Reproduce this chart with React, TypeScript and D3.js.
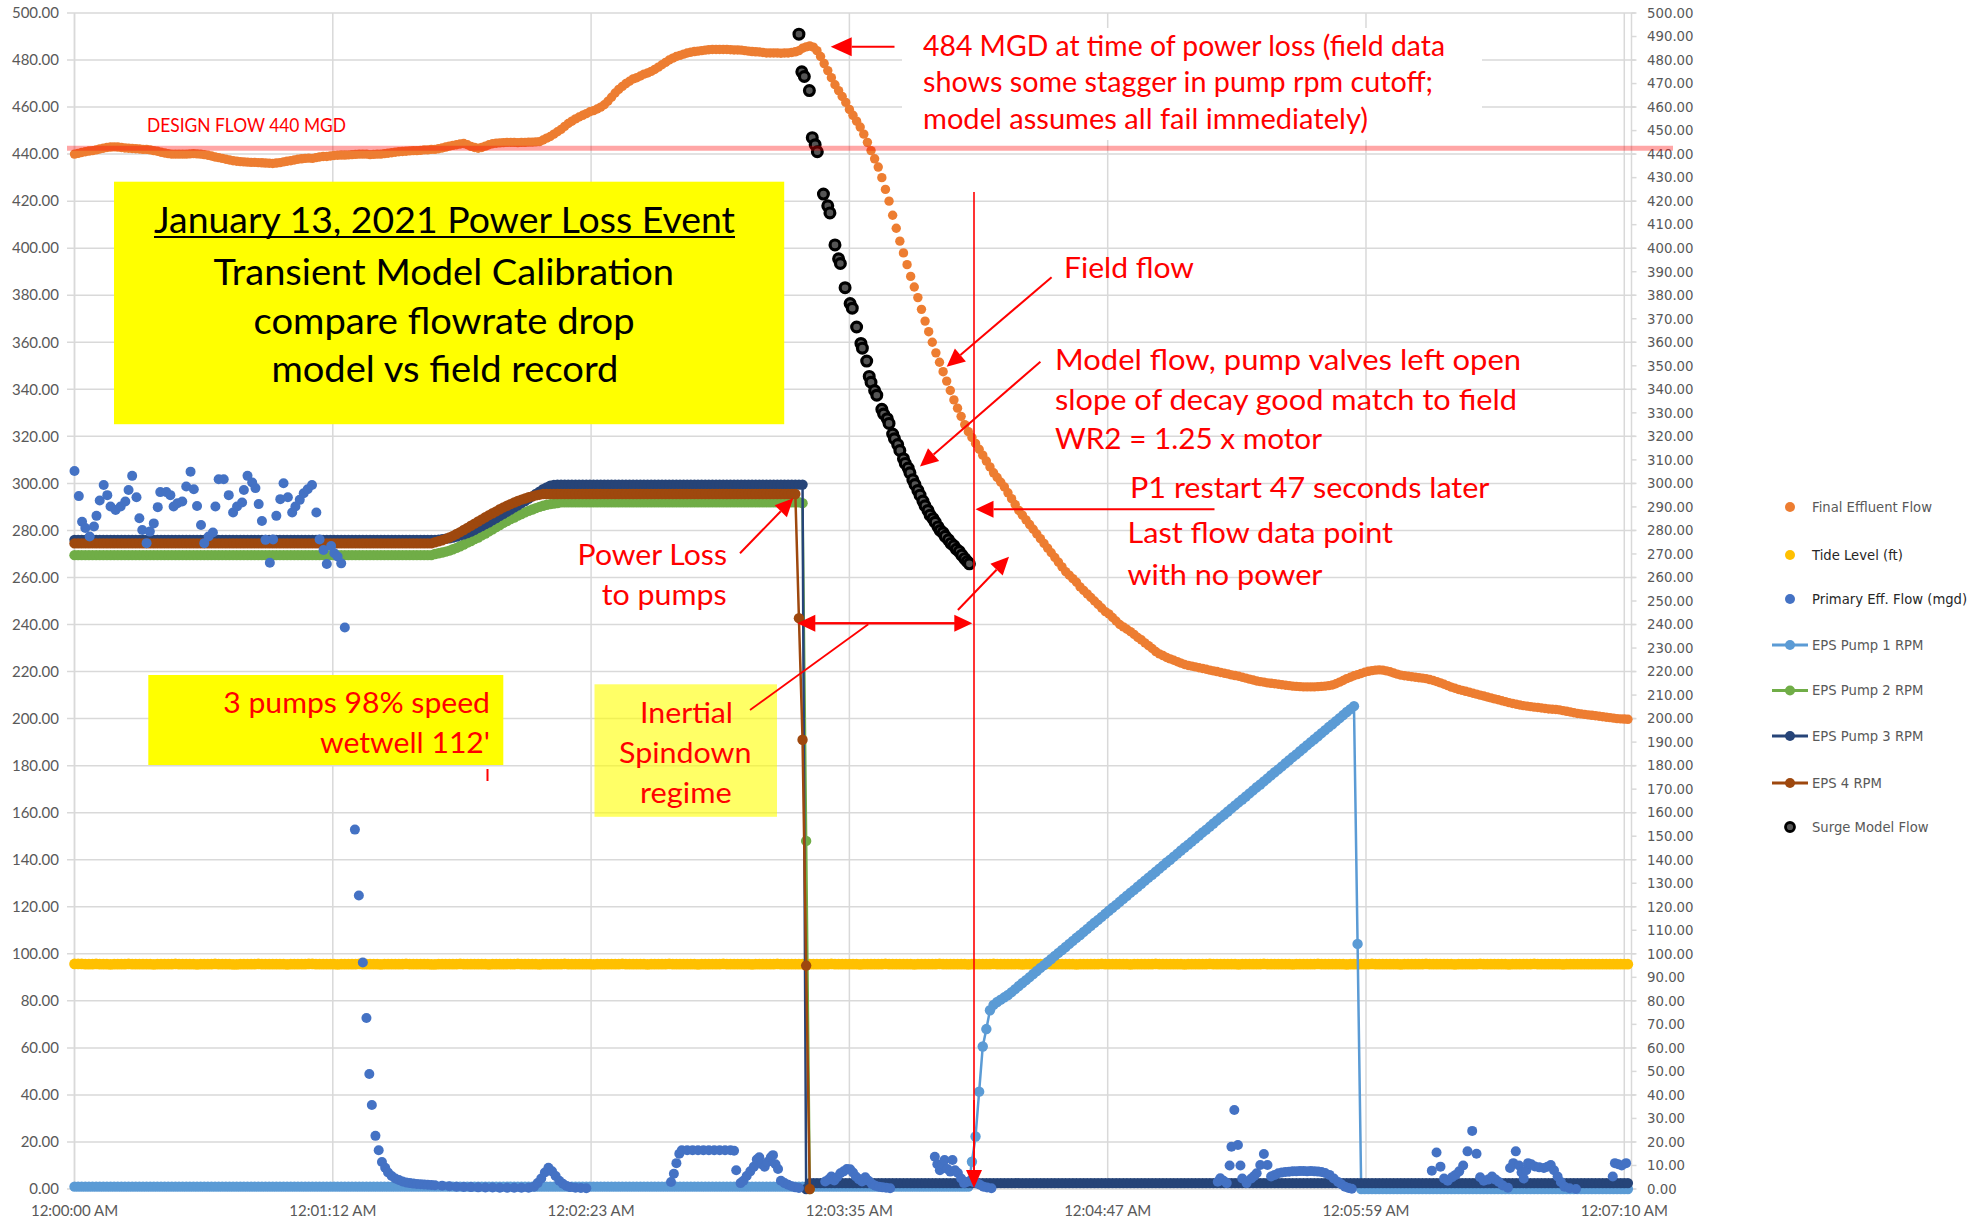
import React from "react";
import * as d3 from "d3";

// ---------------- DATA ----------------
// X axis tick labels (seconds after 12:00:00 AM)
const xTickSeconds = [0, 71.667, 143.333, 215, 286.667, 358.333, 430];
const xTickLabels = ["12:00:00 AM", "12:01:12 AM", "12:02:23 AM", "12:03:35 AM", "12:04:47 AM", "12:05:59 AM", "12:07:10 AM"];

const designFlow = 442.5;

// Final Effluent Flow (MGD), one reading per second starting 12:00:00
const finalEffluentFlow = [
  440, 440.3, 440.7, 441, 441.3, 441.5, 441.8, 442.2, 442.5, 442.8,
  443, 443.1, 443, 442.8, 442.6, 442.5, 442.4, 442.3, 442.2, 442,
  442, 441.8, 441.5, 441.2, 440.8, 440.5, 440.2, 440, 440, 440,
  440, 440, 440.1, 440.2, 440.1, 440, 439.8, 439.5, 439.2, 438.8,
  438.5, 438.2, 437.8, 437.5, 437.2, 437, 436.8, 436.7, 436.6, 436.5,
  436.5, 436.4, 436.3, 436.2, 436.1, 436, 436.2, 436.4, 436.7, 437,
  437.2, 437.5, 437.8, 438, 438.2, 438.3, 438.2, 438.5, 438.8, 439,
  439, 439.2, 439.4, 439.5, 439.6, 439.6, 439.7, 439.8, 439.9, 440,
  440, 440, 439.8, 439.9, 440, 440, 440.2, 440.4, 440.6, 440.8,
  441, 441.1, 441.2, 441.4, 441.5, 441.5, 441.6, 441.8, 441.8, 442,
  442, 442.3, 442.6, 443, 443.4, 443.7, 444, 444.3, 444.5, 444,
  443.3, 442.8, 442.5, 442.8, 443.4, 444, 444.4, 444.6, 444.8, 444.9,
  445, 445, 445, 444.9, 445, 445, 445.1, 445.1, 445.2, 445.3,
  446, 446.8, 447.5, 448.5, 449.5, 450.5, 451.8, 453, 454, 455,
  455.8, 456.5, 457.2, 458, 458.5, 459.2, 460, 461, 462.5, 464.2,
  466, 467.5, 468.8, 470, 471, 472, 472.5, 473.2, 474, 474.5,
  475.2, 476, 477, 478, 479, 480, 480.8, 481.5, 482, 482.5,
  483, 483.3, 483.6, 483.8, 484, 484.2, 484.4, 484.5, 484.5, 484.5,
  484.5, 484.5, 484.4, 484.3, 484.3, 484.2, 484, 483.8, 483.6, 483.5,
  483.4, 483.2, 483, 483, 483, 483, 482.9, 483, 483, 483.2,
  483.5, 484, 485, 485.6, 486, 485.5, 484, 481.5, 478.5, 475.5,
  472.5, 469.5, 467, 464.5, 462, 459, 456.5, 454, 451.5, 448.5,
  445, 441.5, 438, 434.5, 430, 425, 420, 414, 408.5, 403,
  398, 393, 388, 383.5, 379, 374, 369, 364.5, 360, 355.5,
  351.5, 347.5, 343.5, 339.5, 335.5, 332, 328.5, 325, 322, 319.5,
  317, 314.5, 312, 309.5, 307, 304.5, 302.5, 300.5, 298.5, 296,
  293.5, 291, 288.5, 286.5, 284.5, 282.5, 280.5, 278.5, 276.5, 274.5,
  272.5, 270.5, 268.5, 266.5, 264.5, 262.5, 261, 259.5, 258, 256,
  254.5, 253, 251.5, 250, 248.5, 247, 245.5, 244.5, 243, 241.5,
  240, 239, 238, 237, 235.8, 234.5, 233.5, 232.2, 231, 229.8,
  228.5, 227.5, 226.8, 226, 225.4, 224.8, 224.2, 223.6, 223, 222.6,
  222.3, 222, 221.6, 221.3, 221, 220.6, 220.3, 220, 219.6, 219.3,
  219, 218.6, 218.3, 218, 217.6, 217.2, 216.8, 216.4, 216, 215.7,
  215.5, 215.2, 215, 214.8, 214.6, 214.4, 214.2, 214, 213.8, 213.7,
  213.6, 213.5, 213.5, 213.5, 213.5, 213.6, 213.7, 213.8, 214, 214.3,
  214.8, 215.5, 216.2, 217, 217.6, 218.2, 218.7, 219.2, 219.7, 220.1,
  220.4, 220.6, 220.7, 220.6, 220.3, 219.9, 219.4, 218.9, 218.5, 218.2,
  218, 217.8, 217.6, 217.4, 217.2, 217, 216.6, 216.2, 215.7, 215.2,
  214.6, 214, 213.4, 212.9, 212.4, 212, 211.6, 211.2, 210.8, 210.4,
  210, 209.6, 209.2, 208.8, 208.4, 208, 207.6, 207.2, 206.8, 206.4,
  206.1, 205.8, 205.5, 205.3, 205.1, 204.9, 204.7, 204.5, 204.3, 204.1,
  204, 203.9, 203.7, 203.4, 203.1, 202.8, 202.5, 202.2, 202, 201.8,
  201.6, 201.4, 201.2, 201, 200.8, 200.6, 200.4, 200.2, 200, 199.9,
  199.8, 199.7,
];

// Tide Level (ft), one reading per second
const tideLevel = [
  95.7, 95.7, 95.7, 95.6, 95.6, 95.6, 95.7, 95.6, 95.6, 95.6, 95.5, 95.6, 95.6, 95.6, 95.6, 95.7, 95.6, 95.6, 95.6, 95.6,
  95.6, 95.6, 95.5, 95.6, 95.6, 95.6, 95.6, 95.6, 95.7, 95.6, 95.6, 95.6, 95.6, 95.6, 95.5, 95.6, 95.6, 95.6, 95.6, 95.7,
  95.6, 95.6, 95.6, 95.6, 95.5, 95.5, 95.6, 95.6, 95.6, 95.6, 95.6, 95.7, 95.6, 95.6, 95.6, 95.6, 95.6, 95.6, 95.6, 95.5,
  95.6, 95.6, 95.6, 95.6, 95.6, 95.7, 95.7, 95.6, 95.6, 95.6, 95.6, 95.6, 95.6, 95.5, 95.6, 95.6, 95.6, 95.6, 95.6, 95.7,
  95.6, 95.6, 95.6, 95.6, 95.6, 95.5, 95.6, 95.6, 95.6, 95.6, 95.6, 95.6, 95.7, 95.6, 95.6, 95.6, 95.6, 95.6, 95.6, 95.5,
  95.5, 95.6, 95.6, 95.6, 95.6, 95.6, 95.6, 95.7, 95.6, 95.6, 95.6, 95.6, 95.6, 95.6, 95.6, 95.5, 95.6, 95.6, 95.6, 95.6,
  95.6, 95.6, 95.6, 95.7, 95.6, 95.6, 95.6, 95.6, 95.6, 95.5, 95.6, 95.6, 95.6, 95.6, 95.6, 95.6, 95.7, 95.6, 95.6, 95.6,
  95.6, 95.6, 95.6, 95.6, 95.5, 95.6, 95.6, 95.6, 95.6, 95.6, 95.6, 95.6, 95.7, 95.6, 95.6, 95.6, 95.6, 95.6, 95.6, 95.5,
  95.6, 95.6, 95.6, 95.6, 95.6, 95.7, 95.6, 95.6, 95.6, 95.6, 95.6, 95.6, 95.6, 95.5, 95.6, 95.6, 95.6, 95.6, 95.6, 95.6,
  95.7, 95.6, 95.6, 95.6, 95.6, 95.6, 95.6, 95.6, 95.5, 95.6, 95.6, 95.6, 95.6, 95.6, 95.6, 95.7, 95.6, 95.6, 95.6, 95.6,
  95.6, 95.6, 95.6, 95.5, 95.6, 95.6, 95.6, 95.6, 95.6, 95.6, 95.7, 95.6, 95.6, 95.6, 95.6, 95.6, 95.6, 95.6, 95.5, 95.6,
  95.6, 95.6, 95.6, 95.6, 95.6, 95.7, 95.6, 95.6, 95.6, 95.6, 95.6, 95.6, 95.6, 95.5, 95.6, 95.6, 95.6, 95.6, 95.6, 95.6,
  95.7, 95.6, 95.6, 95.6, 95.6, 95.6, 95.6, 95.6, 95.5, 95.6, 95.6, 95.6, 95.6, 95.6, 95.6, 95.7, 95.6, 95.6, 95.6, 95.6,
  95.6, 95.6, 95.6, 95.5, 95.6, 95.6, 95.6, 95.6, 95.6, 95.6, 95.7, 95.6, 95.6, 95.6, 95.6, 95.6, 95.6, 95.6, 95.5, 95.6,
  95.6, 95.6, 95.6, 95.6, 95.6, 95.7, 95.6, 95.6, 95.6, 95.6, 95.6, 95.6, 95.6, 95.5, 95.6, 95.6, 95.6, 95.6, 95.6, 95.6,
  95.7, 95.6, 95.6, 95.6, 95.6, 95.6, 95.6, 95.6, 95.5, 95.6, 95.6, 95.6, 95.6, 95.6, 95.6, 95.7, 95.6, 95.6, 95.6, 95.6,
  95.6, 95.6, 95.6, 95.5, 95.6, 95.6, 95.6, 95.6, 95.6, 95.6, 95.7, 95.6, 95.6, 95.6, 95.6, 95.6, 95.6, 95.6, 95.5, 95.6,
  95.6, 95.6, 95.6, 95.6, 95.6, 95.7, 95.6, 95.6, 95.6, 95.6, 95.6, 95.6, 95.6, 95.5, 95.6, 95.6, 95.6, 95.6, 95.6, 95.6,
  95.7, 95.6, 95.6, 95.6, 95.6, 95.6, 95.6, 95.6, 95.5, 95.6, 95.6, 95.6, 95.6, 95.6, 95.6, 95.7, 95.6, 95.6, 95.6, 95.6,
  95.6, 95.6, 95.6, 95.5, 95.6, 95.6, 95.6, 95.6, 95.6, 95.6, 95.7, 95.6, 95.6, 95.6, 95.6, 95.6, 95.6, 95.6, 95.5, 95.6,
  95.6, 95.6, 95.6, 95.6, 95.6, 95.7, 95.6, 95.6, 95.6, 95.6, 95.6, 95.6, 95.6, 95.5, 95.6, 95.6, 95.6, 95.6, 95.6, 95.6,
  95.6, 95.6, 95.6, 95.6, 95.6, 95.6, 95.6, 95.6, 95.6, 95.6, 95.6, 95.6,
];

// Primary Eff. Flow (mgd): [seconds, value]
const primaryEffFlow: [number, number][] = [
  [0, 305.3], [1.2, 294.6], [2.1, 283.7], [3, 281], [4.2, 277.4], [5.4, 281.7], [6.1, 286.2], [7, 292.7], [8.1, 299.3], [9.1, 295],
  [10, 290.2], [11.4, 288.7], [12.8, 290.2], [14.1, 292.3], [15, 297.2], [16, 303.2], [17.2, 294.1], [18, 285.2], [18.8, 280.2], [20, 274.6],
  [20.9, 279.5], [22, 283], [23.1, 289.9], [23.8, 296.3], [25.5, 296.3], [26.6, 295], [27.5, 290.2], [28.6, 291.6], [29.9, 292.3], [31, 298.7],
  [32.2, 305], [33.1, 297.5], [34, 290.4], [35.1, 282.3], [36, 274.6], [37.2, 277.4], [38.4, 279.1], [39.1, 290.2], [40, 301.8], [41.4, 301.8],
  [42.8, 295], [44, 287.6], [45.1, 290.2], [46.5, 291.9], [47, 297.2], [48, 303.2], [49.3, 300.4], [50.2, 298], [51.1, 291.2], [52, 284],
  [53, 276], [54.2, 266.3], [55.1, 276.2], [56, 286.2], [57.1, 293.3], [58, 300.1], [59.2, 294.1], [60.4, 287.6], [61.3, 290.2], [62.5, 293],
  [63.6, 295.8], [64.7, 297.5], [65.9, 299.3], [67.1, 287.6], [68, 276.2], [69.1, 271.7], [70, 265.7], [71.2, 273.4], [72.1, 270.3], [73, 268.9],
  [74, 266], [75, 238.7],
  [77.8, 152.8], [78.9, 124.8], [80, 96.3], [81, 72.7], [81.8, 48.9], [82.5, 35.7], [83.5, 22.6], [84.4, 16.5], [85.3, 11.5], [86.2, 9],
  [87, 7], [88, 5.5], [89, 4.5], [90, 3.8], [91, 3.2], [92, 2.8], [93, 2.5], [94, 2.3], [95, 2.1], [96, 2],
  [97, 1.9], [98, 1.8], [99, 1.7], [100, 1.6], [102, 1.4], [104, 1.2], [106, 1], [108, 0.9], [110, 0.8], [112, 0.7],
  [114, 0.6], [116, 0.6], [118, 0.5], [120, 0.5], [122, 0.5], [124, 0.5], [126, 0.5], [127.5, 1], [128.5, 2.5], [129.5, 4.5],
  [130.5, 7], [131.5, 9], [132.5, 7.5], [133.5, 5.5], [134.5, 3.5], [135.5, 2.2], [136.5, 1.3], [137.5, 0.8], [139, 0.5], [140.5, 0.4], [142, 0.3],
  [165.5, 3], [166.3, 6.5], [167, 11], [167.8, 15], [168.5, 16.5], [170, 16.5], [171.5, 16.5], [173, 16.5], [174.5, 16.5], [176, 16.5],
  [177.5, 16.5], [179, 16.5], [180.5, 16.5], [182, 16.5], [183, 16.3], [183.6, 8], [184.8, 2.5], [185.6, 3.5], [186.5, 5.5], [187.5, 7.5],
  [188.5, 9.5], [189.3, 12.5], [190, 13.5], [190.7, 10.5], [191.5, 9.5], [192.3, 11.5], [193.2, 13.5], [193.8, 14.4], [194.5, 10.5], [195.2, 8.5],
  [196, 3.5], [197, 2.5], [198, 1.8], [199, 1.2], [200, 0.7], [201, 0.4],
  [208.3, 3.2], [209.2, 4], [210, 5.3], [210.8, 3.6], [211.6, 5], [212.5, 6.7], [213.4, 7.5], [214.3, 8.5], [215.2, 8.4], [216, 7],
  [216.8, 5.3], [217.6, 4.2], [218.5, 3.2], [219.4, 5], [220.3, 3.5], [221.2, 2.2], [222.2, 1.4], [223.2, 1], [224.2, 0.7], [225.2, 0.5], [226.3, 0.3],
  [238.7, 13.7], [239.4, 10.5], [240.1, 8], [240.8, 10.5], [241.4, 12.3], [242.2, 8.5], [243, 7.4], [243.6, 12.3], [244.3, 8], [245.1, 6.8],
  [246, 4.5], [246.8, 2.5], [247.6, 3], [248.5, 3.5], [249.4, 3], [250.3, 2.5], [251.2, 1.8], [252.2, 1], [253.2, 0.6], [254.4, 0.3],
  [317.2, 3.1], [317.9, 4.6], [318.8, 3.5], [319.7, 2.5], [320.5, 10], [321, 18], [321.8, 33.6], [322.8, 18.7], [323.5, 10], [324, 4.5],
  [325.2, 2.5], [326.5, 4.5], [327.3, 5.5], [328, 6.7], [329, 10.2], [330, 14.9], [331, 10.2], [332, 5.3], [333, 6], [334, 6.7],
  [335, 7], [336, 7.2], [337, 7.3], [338, 7.5], [339, 7.5], [340, 7.6], [341, 7.6], [342, 7.5], [343, 7.6], [344, 7.5],
  [345, 7.4], [346, 7.2], [347, 6.8], [348.2, 6], [349.4, 4.5], [350.6, 3], [351.5, 2], [352.5, 1], [353.5, 0.4], [354.4, 0.1],
  [376.6, 7.8], [377.9, 15.5], [379, 9.5], [380, 4.5], [381, 3.5], [382.2, 5], [383.2, 6], [384.2, 7.5], [385.3, 10], [386.5, 16],
  [387.8, 24.7], [389, 15], [390, 5], [391, 3.5], [392.2, 4], [393.3, 5.3], [394.3, 4], [395.2, 3], [396.3, 1.5], [397.7, 0.5],
  [398.3, 8.9], [399.2, 11], [399.9, 16], [400.8, 10], [401.5, 7], [402.1, 4.5], [402.8, 8], [403.3, 11], [404.2, 10.5], [405.2, 9.6],
  [406.4, 9.2], [407.7, 8.9], [408.7, 9.5], [409.6, 10.2], [410.5, 8], [411.5, 5.3], [412.4, 3], [413.4, 1], [414.8, 0.3], [416.6, 0],
  [426.8, 5.3], [427.4, 11], [428.3, 10.5], [429.3, 10], [430.5, 11],
];

// EPS Pump 1 RPM, one reading per second
const pump1Rpm = [
  1, 1, 1, 1, 1, 1, 1, 1, 1, 1, 1, 1, 1, 1, 1, 1, 1, 1, 1, 1,
  1, 1, 1, 1, 1, 1, 1, 1, 1, 1, 1, 1, 1, 1, 1, 1, 1, 1, 1, 1,
  1, 1, 1, 1, 1, 1, 1, 1, 1, 1, 1, 1, 1, 1, 1, 1, 1, 1, 1, 1,
  1, 1, 1, 1, 1, 1, 1, 1, 1, 1, 1, 1, 1, 1, 1, 1, 1, 1, 1, 1,
  1, 1, 1, 1, 1, 1, 1, 1, 1, 1, 1, 1, 1, 1, 1, 1, 1, 1, 1, 1,
  1, 1, 1, 1, 1, 1, 1, 1, 1, 1, 1, 1, 1, 1, 1, 1, 1, 1, 1, 1,
  1, 1, 1, 1, 1, 1, 1, 1, 1, 1, 1, 1, 1, 1, 1, 1, 1, 1, 1, 1,
  1, 1, 1, 1, 1, 1, 1, 1, 1, 1, 1, 1, 1, 1, 1, 1, 1, 1, 1, 1,
  1, 1, 1, 1, 1, 1, 1, 1, 1, 1, 1, 1, 1, 1, 1, 1, 1, 1, 1, 1,
  1, 1, 1, 1, 1, 1, 1, 1, 1, 1, 1, 1, 1, 1, 1, 1, 1, 1, 1, 1,
  1, 1, 1, 1, 1, 1, 1, 1, 1, 1, 1, 1, 1, 1, 1, 1, 1, 1, 1, 1,
  1, 1, 1, 1, 1, 1, 1, 1, 1, 1, 1, 1, 1, 1, 1, 1, 1, 1, 1, 1,
  1, 1, 1, 1, 1, 1, 1, 1, 1, 11.6,
  22.3, 41.4, 60.6, 68, 76, 78.3, 79.5, 80.5, 81.5, 82.5,
  83.7, 85, 86.3, 87.6, 88.8, 90.1, 91.4, 92.7, 94, 95.2,
  96.5, 97.8, 99.1, 100.4, 101.6, 102.9, 104.2, 105.5, 106.8, 108,
  109.3, 110.6, 111.9, 113.2, 114.4, 115.7, 117, 118.3, 119.6, 120.8,
  122.1, 123.4, 124.7, 126, 127.2, 128.5, 129.8, 131.1, 132.4, 133.6,
  134.9, 136.2, 137.5, 138.8, 140, 141.3, 142.6, 143.9, 145.2, 146.4,
  147.7, 149, 150.3, 151.6, 152.8, 154.1, 155.4, 156.7, 158, 159.2,
  160.5, 161.8, 163.1, 164.4, 165.6, 166.9, 168.2, 169.5, 170.8, 172,
  173.3, 174.6, 175.9, 177.2, 178.4, 179.7, 181, 182.3, 183.6, 184.8,
  186.1, 187.4, 188.7, 190, 191.2, 192.5, 193.8, 195.1, 196.4, 197.6,
  198.9, 200.2, 201.5, 202.8, 204, 205.3, 104.2, 0, 0, 0,
  0, 0, 0, 0, 0, 0, 0, 0, 0, 0, 0, 0, 0, 0, 0, 0, 0, 0, 0, 0,
  0, 0, 0, 0, 0, 0, 0, 0, 0, 0, 0, 0, 0, 0, 0, 0, 0, 0, 0, 0,
  0, 0, 0, 0, 0, 0, 0, 0, 0, 0, 0, 0, 0, 0, 0, 0, 0, 0, 0, 0,
  0, 0, 0, 0, 0, 0, 0, 0, 0, 0, 0, 0,
];

// EPS Pump 2 RPM, one reading per second
const pump2Rpm = [
  269.5, 269.5, 269.5, 269.5, 269.5, 269.5, 269.5, 269.5, 269.5, 269.5, 269.5, 269.5, 269.5, 269.5, 269.5, 269.5, 269.5, 269.5, 269.5, 269.5,
  269.5, 269.5, 269.5, 269.5, 269.5, 269.5, 269.5, 269.5, 269.5, 269.5, 269.5, 269.5, 269.5, 269.5, 269.5, 269.5, 269.5, 269.5, 269.5, 269.5,
  269.5, 269.5, 269.5, 269.5, 269.5, 269.5, 269.5, 269.5, 269.5, 269.5, 269.5, 269.5, 269.5, 269.5, 269.5, 269.5, 269.5, 269.5, 269.5, 269.5,
  269.5, 269.5, 269.5, 269.5, 269.5, 269.5, 269.5, 269.5, 269.5, 269.5, 269.5, 269.5, 269.5, 269.5, 269.5, 269.5, 269.5, 269.5, 269.5, 269.5,
  269.5, 269.5, 269.5, 269.5, 269.5, 269.5, 269.5, 269.5, 269.5, 269.5, 269.5, 269.5, 269.5, 269.5, 269.5, 269.5, 269.5, 269.5, 269.5, 269.5,
  270, 270.3, 270.6, 271, 271.4, 272, 272.6, 273.3, 274, 274.8,
  275.5, 276.3, 277, 277.9, 278.7, 279.6, 280.5, 281.4, 282.3, 283.2,
  284, 284.8, 285.5, 286.3, 287, 287.7, 288.3, 288.9, 289.5, 290,
  290.5, 290.9, 291.2, 291.4, 291.6, 292, 292, 292, 292, 292,
  292, 292, 292, 292, 292, 292, 292, 292, 292, 292, 292, 292, 292, 292, 292, 292, 292, 292, 292, 292,
  292, 292, 292, 292, 292, 292, 292, 292, 292, 292, 292, 292, 292, 292, 292, 292, 292, 292, 292, 292,
  292, 292, 292, 292, 292, 292, 292, 292, 292, 292, 292, 292, 292, 292, 292, 292, 292, 292, 292, 292,
  292, 292, 291.6, 148, 0,
];

// EPS Pump 3 RPM, one reading per second
const pump3Rpm = [
  276, 276, 276, 276, 276, 276, 276, 276, 276, 276, 276, 276, 276, 276, 276, 276, 276, 276, 276, 276,
  276, 276, 276, 276, 276, 276, 276, 276, 276, 276, 276, 276, 276, 276, 276, 276, 276, 276, 276, 276,
  276, 276, 276, 276, 276, 276, 276, 276, 276, 276, 276, 276, 276, 276, 276, 276, 276, 276, 276, 276,
  276, 276, 276, 276, 276, 276, 276, 276, 276, 276, 276, 276, 276, 276, 276, 276, 276, 276, 276, 276,
  276, 276, 276, 276, 276, 276, 276, 276, 276, 276, 276, 276, 276, 276, 276, 276, 276, 276, 276, 276,
  276, 276.1, 276.3, 276.5, 276.7, 277, 277.4, 277.9, 278.4, 278.9,
  279.5, 280.3, 281.1, 281.9, 282.7, 283.5, 284.4, 285.3, 286.2, 287.1,
  288, 288.9, 289.8, 290.7, 291.6, 292.5, 293.5, 294.5, 295.5, 296.5,
  297.5, 298.3, 299, 299.3, 299.5, 299.5, 299.5, 299.5, 299.5, 299.5,
  299.5, 299.5, 299.5, 299.5, 299.5, 299.5, 299.5, 299.5, 299.5, 299.5, 299.5, 299.5, 299.5, 299.5, 299.5, 299.5, 299.5, 299.5, 299.5, 299.5,
  299.5, 299.5, 299.5, 299.5, 299.5, 299.5, 299.5, 299.5, 299.5, 299.5, 299.5, 299.5, 299.5, 299.5, 299.5, 299.5, 299.5, 299.5, 299.5, 299.5,
  299.5, 299.5, 299.5, 299.5, 299.5, 299.5, 299.5, 299.5, 299.5, 299.5, 299.5, 299.5, 299.5, 299.5, 299.5, 299.5, 299.5, 299.5, 299.5, 299.5,
  299.5, 299.5, 299.5, 0, 2.5, 2.5, 2.5, 2.5, 2.5, 2.5,
  2.5, 2.5, 2.5, 2.5, 2.5, 2.5, 2.5, 2.5, 2.5, 2.5, 2.5, 2.5, 2.5, 2.5, 2.5, 2.5, 2.5, 2.5, 2.5, 2.5,
  2.5, 2.5, 2.5, 2.5, 2.5, 2.5, 2.5, 2.5, 2.5, 2.5, 2.5, 2.5, 2.5, 2.5, 2.5, 2.5, 2.5, 2.5, 2.5, 2.5,
  2.5, 2.5, 2.5, 2.5, 2.5, 2.5, 2.5, 2.5, 2.5, 2.5, 2.5, 2.5, 2.5, 2.5, 2.5, 2.5, 2.5, 2.5, 2.5, 2.5,
  2.5, 2.5, 2.5, 2.5, 2.5, 2.5, 2.5, 2.5, 2.5, 2.5, 2.5, 2.5, 2.5, 2.5, 2.5, 2.5, 2.5, 2.5, 2.5, 2.5,
  2.5, 2.5, 2.5, 2.5, 2.5, 2.5, 2.5, 2.5, 2.5, 2.5, 2.5, 2.5, 2.5, 2.5, 2.5, 2.5, 2.5, 2.5, 2.5, 2.5,
  2.5, 2.5, 2.5, 2.5, 2.5, 2.5, 2.5, 2.5, 2.5, 2.5, 2.5, 2.5, 2.5, 2.5, 2.5, 2.5, 2.5, 2.5, 2.5, 2.5,
  2.5, 2.5, 2.5, 2.5, 2.5, 2.5, 2.5, 2.5, 2.5, 2.5, 2.5, 2.5, 2.5, 2.5, 2.5, 2.5, 2.5, 2.5, 2.5, 2.5,
  2.5, 2.5, 2.5, 2.5, 2.5, 2.5, 2.5, 2.5, 2.5, 2.5, 2.5, 2.5, 2.5, 2.5, 2.5, 2.5, 2.5, 2.5, 2.5, 2.5,
  2.5, 2.5, 2.5, 2.5, 2.5, 2.5, 2.5, 2.5, 2.5, 2.5, 2.5, 2.5, 2.5, 2.5, 2.5, 2.5, 2.5, 2.5, 2.5, 2.5,
  2.5, 2.5, 2.5, 2.5, 2.5, 2.5, 2.5, 2.5, 2.5, 2.5, 2.5, 2.5, 2.5, 2.5, 2.5, 2.5, 2.5, 2.5, 2.5, 2.5,
  2.5, 2.5, 2.5, 2.5, 2.5, 2.5, 2.5, 2.5, 2.5, 2.5, 2.5, 2.5, 2.5, 2.5, 2.5, 2.5, 2.5, 2.5, 2.5, 2.5,
  2.5, 2.5,
];

// EPS 4 RPM, one reading per second
const pump4Rpm = [
  274.5, 274.5, 274.5, 274.5, 274.5, 274.5, 274.5, 274.5, 274.5, 274.5, 274.5, 274.5, 274.5, 274.5, 274.5, 274.5, 274.5, 274.5, 274.5, 274.5,
  274.5, 274.5, 274.5, 274.5, 274.5, 274.5, 274.5, 274.5, 274.5, 274.5, 274.5, 274.5, 274.5, 274.5, 274.5, 274.5, 274.5, 274.5, 274.5, 274.5,
  274.5, 274.5, 274.5, 274.5, 274.5, 274.5, 274.5, 274.5, 274.5, 274.5, 274.5, 274.5, 274.5, 274.5, 274.5, 274.5, 274.5, 274.5, 274.5, 274.5,
  274.5, 274.5, 274.5, 274.5, 274.5, 274.5, 274.5, 274.5, 274.5, 274.5, 274.5, 274.5, 274.5, 274.5, 274.5, 274.5, 274.5, 274.5, 274.5, 274.5,
  274.5, 274.5, 274.5, 274.5, 274.5, 274.5, 274.5, 274.5, 274.5, 274.5, 274.5, 274.5, 274.5, 274.5, 274.5, 274.5, 274.5, 274.5, 274.5, 274.5,
  275, 275.4, 275.8, 276.4, 277, 277.7, 278.5, 279.3, 280.2, 281.1,
  282, 282.9, 283.8, 284.7, 285.6, 286.5, 287.3, 288.1, 289, 289.8,
  290.5, 291.2, 291.9, 292.5, 293.1, 293.6, 294.1, 294.5, 294.9, 295.2,
  295.5, 295.5, 295.5, 295.5, 295.5, 295.5, 295.5, 295.5, 295.5, 295.5, 295.5, 295.5, 295.5, 295.5, 295.5, 295.5, 295.5, 295.5, 295.5, 295.5,
  295.5, 295.5, 295.5, 295.5, 295.5, 295.5, 295.5, 295.5, 295.5, 295.5, 295.5, 295.5, 295.5, 295.5, 295.5, 295.5, 295.5, 295.5, 295.5, 295.5,
  295.5, 295.5, 295.5, 295.5, 295.5, 295.5, 295.5, 295.5, 295.5, 295.5, 295.5, 295.5, 295.5, 295.5, 295.5, 295.5, 295.5, 295.5, 295.5, 295.5,
  295.5, 295.5, 295.5, 295.5, 295.5, 295.5, 295.5, 295.5, 295.5, 295.5,
  295.5, 242.7, 191, 95, 0,
];

// Surge Model Flow (model): [seconds, value]
const surgeModelFlow: [number, number][] = [
  [201, 491], [201.8, 475], [202.5, 473], [203.9, 467], [204.7, 447], [205.5, 444], [206.1, 441], [207.8, 423], [209, 418], [209.6, 415],
  [211, 401.4], [212, 395.5], [212.5, 393.5], [213.8, 383.2], [215.2, 376.5], [215.8, 374.5], [217, 366.5], [218.2, 359.5], [218.6, 357.5], [219.8, 352],
  [220.5, 345.5], [221, 343], [222, 339.5], [222.6, 337.5], [224, 331.5], [224.5, 329.5], [225.5, 327.5], [226, 325.5], [227, 321], [227.5, 319],
  [228.4, 316.5], [229, 314], [230, 310.5], [230.5, 308.5], [231.3, 306.5], [231.8, 304.5], [232.6, 301.5], [233.2, 299.5], [234, 297], [234.6, 295],
  [235.4, 292.5], [236, 290.5], [236.8, 288.5], [237.4, 286.5], [238.2, 285], [238.8, 283.5], [239.6, 281.5], [240.2, 280], [241, 279], [241.6, 277.5],
  [242.5, 276], [243.2, 274.5], [244, 273.5], [244.7, 272], [245.5, 271], [246.2, 269.5], [247, 268], [247.7, 266.8], [248.3, 265.8],
];

const legendNames = ["Final Effluent Flow", "Tide Level (ft)", "Primary Eff. Flow (mgd)", "EPS Pump 1 RPM", "EPS Pump 2 RPM", "EPS Pump 3 RPM", "EPS 4 RPM", "Surge Model Flow"];

// ---------------- STYLE ----------------
const C = {
  effluent: "#ED7D31",
  tide: "#FFC000",
  primary: "#4472C4",
  p1: "#5B9BD5",
  p2: "#70AD47",
  p3: "#264478",
  p4: "#9E480E",
  red: "#FF0000",
  grid: "#D9D9D9",
  axisText: "#595959",
};

const LATO = "Lato, 'Open Sans', sans-serif";
const DEJA = "'DejaVu Sans', Verdana, sans-serif";

function Arrow({ x1, y1, x2, y2, len = 18, hw = 8.5, color = C.red, w = 2 }: any) {
  const dx = x2 - x1, dy = y2 - y1;
  const d = Math.hypot(dx, dy);
  const ux = dx / d, uy = dy / d;
  const bx = x2 - ux * len, by = y2 - uy * len;
  const nx = -uy, ny = ux;
  return (
    <g>
      <line x1={x1} y1={y1} x2={bx} y2={by} stroke={color} strokeWidth={w} />
      <polygon points={`${x2},${y2} ${bx + nx * hw},${by + ny * hw} ${bx - nx * hw},${by - ny * hw}`} fill={color} />
    </g>
  );
}

function T({ x, y, len, size, color = C.red, children, weight = 400 }: any) {
  return (
    <text x={x} y={y} fontFamily={LATO} fontSize={size} fill={color} fontWeight={weight}
      textLength={len} lengthAdjust="spacingAndGlyphs">{children}</text>
  );
}

export default function App() {
  const W = 1986, H = 1222;
  const x = d3.scaleLinear().domain([0, 432]).range([74.5, 1631.5]);
  const y = d3.scaleLinear().domain([0, 500]).range([1189, 13]);

  const perSecond = (vals: number[]) => vals.map((v, i) => [i, v] as [number, number]);

  const effluentPts = perSecond(finalEffluentFlow);
  const tidePts = perSecond(tideLevel);
  const p1 = perSecond(pump1Rpm);
  const p2 = perSecond(pump2Rpm);
  const p3 = perSecond(pump3Rpm);
  const p4 = perSecond(pump4Rpm);

  const line = d3.line<[number, number]>().x(d => x(d[0])).y(d => y(d[1]));

  const leftTicks = y.ticks(25);
  const rightTicks = y.ticks(50);
  const fmt = d3.format(".2f");

  const dots = (pts: [number, number][], r: number, fill: string, key: string, extra: any = {}) =>
    pts.map((d, i) => <circle key={key + i} cx={x(d[0])} cy={y(d[1])} r={r} fill={fill} {...extra} />);

  const pumpSeries = (pts: [number, number][], color: string, key: string) => (
    <g key={key}>
      <path d={line(pts) || ""} fill="none" stroke={color} strokeWidth={2.5} />
      {dots(pts, 5.2, color, key)}
    </g>
  );

  const plotL = x(0), plotR = x(432);

  const legendColors = [C.effluent, C.tide, C.primary, C.p1, C.p2, C.p3, C.p4, "#000"];
  const legendKinds = ["dot", "dot", "dot", "line", "line", "line", "line", "ring"];
  const legendTextColor = ["#595959", "#262626", "#262626", "#595959", "#595959", "#595959", "#595959", "#595959"];
  const legendY = [507, 555, 599, 645, 690.5, 736, 783, 827];

  return (
    <div style={{ position: "absolute", left: 0, top: 0, width: W, height: H, background: "#fff" }}>
      <svg width={W} height={H} viewBox={`0 0 ${W} ${H}`} style={{ display: "block" }}>
        <rect x={0} y={0} width={W} height={H} fill="#fff" />

        {/* horizontal gridlines */}
        {leftTicks.map(t => (
          <line key={"hg" + t} x1={67} x2={plotR + 4} y1={y(t)} y2={y(t)} stroke={C.grid} strokeWidth={1.5} />
        ))}
        {/* vertical gridlines */}
        {xTickSeconds.map(t => (
          <line key={"vg" + t} x1={x(t)} x2={x(t)} y1={y(500)} y2={y(0)} stroke={C.grid} strokeWidth={1.5} />
        ))}
        <line x1={plotL} x2={plotL} y1={y(500)} y2={y(0)} stroke={C.grid} strokeWidth={1.5} />
        {/* right axis */}
        <line x1={plotR} x2={plotR} y1={y(500)} y2={y(0)} stroke={C.grid} strokeWidth={1.5} />
        {rightTicks.map(t => (
          <line key={"rt" + t} x1={plotR} x2={plotR + 5} y1={y(t)} y2={y(t)} stroke={C.grid} strokeWidth={1.5} />
        ))}

        {/* left labels */}
        {leftTicks.map(t => (
          <text key={"ll" + t} x={59} y={y(t)} dy="0.35em" textAnchor="end" fontFamily={LATO} fontSize={15} fill={C.axisText}>{fmt(t)}</text>
        ))}
        {/* right labels */}
        {rightTicks.map(t => (
          <text key={"rl" + t} x={1647} y={y(t)} dy="0.36em" fontFamily={DEJA} fontSize={13.3} fill={C.axisText}>{fmt(t)}</text>
        ))}
        {/* x labels */}
        {xTickSeconds.map((t, i) => (
          <text key={"xl" + i} x={x(t)} y={1216} textAnchor="middle" fontFamily={LATO} fontSize={15} fill={C.axisText}>{xTickLabels[i]}</text>
        ))}

        {/* annotation boxes (under data) */}
        <rect x={114} y={181.7} width={670.2} height={242.5} fill="#FFFF00" />
        <rect x={148.3} y={675} width={355} height={90} fill="#FFFF00" />
        <rect x={594.5} y={684.3} width={182.5} height={132.5} fill="#FFFF00" opacity={0.6} />
        <rect x={902} y={28} width={580} height={112} fill="#fff" />

        {/* series */}
        <g>{dots(effluentPts, 4.7, C.effluent, "ef")}</g>
        <g>{dots(tidePts, 5.3, C.tide, "td")}</g>
        {pumpSeries(p1, C.p1, "p1")}
        {pumpSeries(p2, C.p2, "p2")}
        {pumpSeries(p3, C.p3, "p3")}
        {pumpSeries(p4, C.p4, "p4")}
        <g>{dots(primaryEffFlow, 5, C.primary, "pr")}</g>
        <g>{dots(surgeModelFlow, 4.9, "#555", "sg", { stroke: "#000", strokeWidth: 3.2 })}</g>

        {/* design flow line */}
        <line x1={67} x2={1673} y1={y(designFlow)} y2={y(designFlow)} stroke="#FF0000" strokeOpacity={0.35} strokeWidth={5} />
        <T x={147} y={131.5} len={199} size={18.5}>DESIGN FLOW 440 MGD</T>

        {/* big title box text */}
        <T x={154} y={233} len={581} size={36} color="#000">January 13, 2021 Power Loss Event</T>
        <line x1={154} x2={735} y1={237} y2={237} stroke="#000" strokeWidth={2.2} />
        <T x={213.4} y={285} len={460.7} size={36} color="#000">Transient Model Calibration</T>
        <T x={253.6} y={333.5} len={381} size={36} color="#000">compare flowrate drop</T>
        <T x={271.4} y={382} len={347} size={36} color="#000">model vs field record</T>

        {/* 3 pumps box */}
        <T x={223.3} y={712.7} len={266.7} size={29}>3 pumps 98% speed</T>
        <T x={320} y={753.3} len={170} size={29}>wetwell 112'</T>
        <line x1={487.5} x2={487.5} y1={769} y2={781} stroke={C.red} strokeWidth={2} />

        {/* inertial spindown */}
        <T x={640} y={722.7} len={93} size={28}>Inertial</T>
        <T x={619} y={763.3} len={132.5} size={28}>Spindown</T>
        <T x={640} y={803} len={91.7} size={28}>regime</T>
        <line x1={750} y1={710} x2={868.3} y2={624.3} stroke={C.red} strokeWidth={1.8} />

        {/* power loss */}
        <T x={577.6} y={565} len={149.4} size={28}>Power Loss</T>
        <T x={601.7} y={605} len={125} size={28}>to pumps</T>
        <Arrow x1={740} y1={553.3} x2={793.3} y2={498.3} />

        {/* double arrow */}
        <line x1={810} y1={623.3} x2={960} y2={623.3} stroke={C.red} strokeWidth={2} />
        <Arrow x1={880} y1={623.3} x2={797.3} y2={623.3} />
        <Arrow x1={880} y1={623.3} x2={972.3} y2={623.3} />

        {/* red vertical at P1 restart */}
        <line x1={974} x2={974} y1={192} y2={1172} stroke={C.red} strokeWidth={1.6} />
        <Arrow x1={974} y1={1100} x2={974} y2={1188} len={18} hw={8} w={1.6} />

        {/* 484 MGD text */}
        <Arrow x1={894.5} y1={46.7} x2={830.7} y2={46.7} len={21} hw={9.5} />
        <T x={923} y={55.5} len={522} size={28}>484 MGD at time of power loss (field data</T>
        <T x={923} y={92} len={510} size={28}>shows some stagger in pump rpm cutoff;</T>
        <T x={923} y={128.5} len={445} size={28}>model assumes all fail immediately)</T>

        {/* field flow */}
        <T x={1064} y={278} len={130} size={29}>Field flow</T>
        <Arrow x1={1051.6} y1={277.3} x2={946.7} y2={366.7} />

        {/* model flow */}
        <T x={1055} y={370} len={466} size={29}>Model flow, pump valves left open</T>
        <T x={1055} y={409.5} len={462} size={29}>slope of decay good match to field</T>
        <T x={1055} y={449} len={267} size={29}>WR2 = 1.25 x motor</T>
        <Arrow x1={1040.4} y1={361.7} x2={920} y2={466.4} />

        {/* P1 restart */}
        <T x={1130} y={498} len={359.5} size={29}>P1 restart 47 seconds later</T>
        <Arrow x1={1214.5} y1={509.3} x2={975.5} y2={509.3} />

        {/* last flow data point */}
        <T x={1127.5} y={543} len={265.5} size={29}>Last flow data point</T>
        <T x={1127.5} y={585} len={195} size={29}>with no power</T>
        <Arrow x1={957.9} y1={610} x2={1009} y2={556.7} />

        {/* legend */}
        {legendNames.map((name, i) => {
          const ly = legendY[i];
          const col = legendColors[i];
          const kind = legendKinds[i];
          return (
            <g key={"lg" + i}>
              {kind === "line" && <line x1={1772} x2={1808} y1={ly} y2={ly} stroke={col} strokeWidth={3} />}
              {kind === "ring"
                ? <circle cx={1790} cy={ly} r={4.5} fill="#555" stroke="#000" strokeWidth={2.8} />
                : <circle cx={1790} cy={ly} r={5} fill={col} />}
              <text x={1812} y={ly} dy="0.36em" fontFamily={DEJA} fontSize={13.2} fill={legendTextColor[i]}>{name}</text>
            </g>
          );
        })}
      </svg>
    </div>
  );
}
